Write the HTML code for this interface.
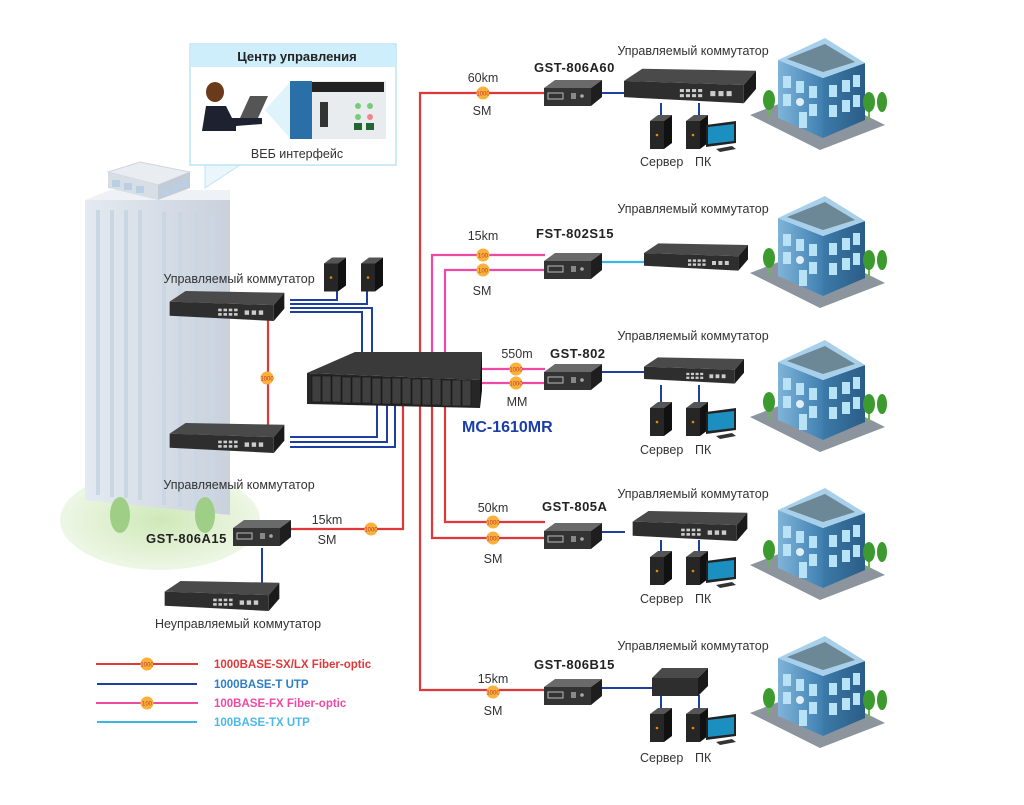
<!DOCTYPE html>
<html><head><meta charset="utf-8"><style>
html,body{margin:0;padding:0;background:#fff;}
svg{display:block;font-family:"Liberation Sans","DejaVu Sans",sans-serif;}
.t{font-size:12.5px;fill:#333;}
.b{font-size:13px;font-weight:bold;fill:#222;letter-spacing:0.5px;}
</style></head><body>
<svg width="1024" height="805" viewBox="0 0 1024 805" xmlns="http://www.w3.org/2000/svg">
<defs>
<linearGradient id="tw" x1="0" x2="1"><stop offset="0" stop-color="#e4eaf1"/><stop offset="1" stop-color="#c9d1dc"/></linearGradient>
<linearGradient id="bl" x1="0" x2="1"><stop offset="0" stop-color="#7fb4d9"/><stop offset="1" stop-color="#3f7fb0"/></linearGradient>
<linearGradient id="br" x1="0" x2="1"><stop offset="0" stop-color="#3d7aa8"/><stop offset="1" stop-color="#2a5d86"/></linearGradient>
<radialGradient id="gr"><stop offset="0" stop-color="#cfe8b8"/><stop offset="1" stop-color="#eef7e6"/></radialGradient>
<symbol id="conv" viewBox="0 0 58 28" width="58" height="28">
<polygon points="0,9 11,1 58,1 47,9" fill="#6a6a6a"/>
<polygon points="47,9 58,1 58,18 47,27" fill="#1e1e1e"/>
<rect x="0" y="9" width="47" height="18" fill="#333"/>
<rect x="4" y="14" width="15" height="6" fill="none" stroke="#bbb" stroke-width="1"/>
<rect x="27" y="14" width="5" height="6" fill="#888"/><circle cx="38" cy="17" r="1.8" fill="#aaa"/>
</symbol>
<symbol id="sw" viewBox="0 0 130 34" width="130" height="34">
<polygon points="0,12 18,0 130,2 118,16" fill="#4a4a4a"/>
<polygon points="118,16 130,2 130,20 118,34" fill="#1a1a1a"/>
<polygon points="0,12 118,16 118,34 0,28" fill="#2e2e2e"/>
<g fill="#ccc"><rect x="55" y="20" width="4" height="3"/><rect x="61" y="20" width="4" height="3"/><rect x="67" y="20" width="4" height="3"/><rect x="73" y="20" width="4" height="3"/><rect x="55" y="25" width="4" height="3"/><rect x="61" y="25" width="4" height="3"/><rect x="67" y="25" width="4" height="3"/><rect x="73" y="25" width="4" height="3"/><rect x="85" y="22" width="5" height="5"/><rect x="93" y="22" width="5" height="5"/><rect x="101" y="22" width="5" height="5"/></g>
</symbol>
<symbol id="srv" viewBox="0 0 22 34" width="22" height="34">
<polygon points="0,6 8,0 22,0 14,6" fill="#555"/><polygon points="14,6 22,0 22,28 14,34" fill="#111"/>
<rect x="0" y="6" width="14" height="28" fill="#262626"/><circle cx="7" cy="20" r="1.3" fill="#e80"/>
</symbol>
<symbol id="pc" viewBox="0 0 52 38" width="52" height="38">
<use href="#srv" x="0" y="0" width="22" height="34"/>
<polygon points="20,10 50,6 50,28 20,32" fill="#222"/><polygon points="22,12 48,9 48,26 22,29" fill="#1b8fc0"/>
<polygon points="30,34 46,31 50,34 34,37" fill="#333"/>
</symbol>
<symbol id="bldg" viewBox="0 0 145 120" width="145" height="120">
<polygon points="5,85 70,60 140,95 75,120" fill="#8c959e"/>
<polygon points="33,30 78,48 78,108 33,88" fill="url(#bl)"/>
<polygon points="78,48 120,33 120,90 78,108" fill="url(#br)"/>
<polygon points="33,30 80,8 120,33 78,48" fill="#a8d0ea"/>
<polygon points="42,29 80,14 110,32 78,42" fill="#6c8796"/>
<g fill="#b8e2f6"><rect x="38" y="46" width="8" height="12"/><rect x="51" y="51" width="8" height="12"/><rect x="64" y="56" width="8" height="12"/><rect x="38" y="64" width="8" height="12"/><rect x="64" y="74" width="8" height="12"/><rect x="54" y="82" width="8" height="16"/><rect x="84" y="55" width="8" height="12"/><rect x="97" y="50" width="8" height="12"/><rect x="108" y="45" width="7" height="12"/><rect x="84" y="75" width="8" height="12"/><rect x="97" y="70" width="8" height="12"/><rect x="108" y="65" width="7" height="12"/></g>
<circle cx="55" cy="72" r="4" fill="#dfeff8"/>
<rect x="23" y="75" width="2" height="12" fill="#6b4"/><ellipse cx="24" cy="70" rx="6" ry="10" fill="#3d9a2e"/>
<rect x="123" y="78" width="2" height="12" fill="#6b4"/><ellipse cx="124" cy="72" rx="6" ry="10" fill="#3d9a2e"/>
<ellipse cx="137" cy="72" rx="5" ry="10" fill="#3d9a2e"/>
</symbol>
<symbol id="bg1" viewBox="0 0 14 14" width="14" height="14"><circle cx="7" cy="7" r="6.5" fill="#f8b13a"/><text x="7" y="9.5" font-size="6" text-anchor="middle" fill="#c33" font-family="Liberation Sans">1000</text></symbol>
<symbol id="bg2" viewBox="0 0 14 14" width="14" height="14"><circle cx="7" cy="7" r="6.5" fill="#f8b13a"/><text x="7" y="9.5" font-size="6" text-anchor="middle" fill="#c33" font-family="Liberation Sans">100</text></symbol>
</defs>

<ellipse cx="160" cy="520" rx="100" ry="50" fill="url(#gr)"/>
<polygon points="85,200 230,200 230,515 85,500" fill="url(#tw)"/>
<polygon points="85,200 110,190 230,190 230,200" fill="#eef2f6"/>
<g stroke="#c9d6e4" stroke-width="4"><line x1="98" y1="210" x2="98" y2="495"/><line x1="112" y1="210" x2="112" y2="497"/><line x1="126" y1="210" x2="126" y2="498"/><line x1="140" y1="210" x2="140" y2="500"/><line x1="164" y1="212" x2="164" y2="505"/><line x1="180" y1="212" x2="180" y2="507"/><line x1="196" y1="212" x2="196" y2="509"/><line x1="212" y1="212" x2="212" y2="511"/></g>
<polygon points="108,172 140,162 190,172 158,185" fill="#e9edf2" stroke="#cfd6de"/>
<polygon points="108,172 158,185 158,200 108,188" fill="#d7dee6"/>
<polygon points="158,185 190,172 190,188 158,200" fill="#c3ccd6"/>
<g fill="#b9cfe6"><rect x="112" y="180" width="8" height="7"/><rect x="124" y="183" width="8" height="7"/><rect x="136" y="186" width="8" height="7"/><rect x="162" y="188" width="7" height="7"/><rect x="172" y="184" width="7" height="7"/><rect x="182" y="180" width="6" height="7"/></g>
<ellipse cx="120" cy="515" rx="10" ry="18" fill="#9fce86"/><ellipse cx="205" cy="515" rx="10" ry="18" fill="#9fce86"/>

<polygon points="205,165 240,165 205,188" fill="#eaf6fc" stroke="#bde3f4"/>
<rect x="190" y="44" width="206" height="121" fill="#fff" stroke="#bde3f4" stroke-width="1.5"/>
<rect x="191" y="45" width="204" height="22" fill="#cfeefb"/>
<text x="297" y="61" text-anchor="middle" font-size="13" font-weight="bold" fill="#222">Центр управления</text>
<polygon points="265,110 290,82 290,138" fill="#dff3fb"/>
<rect x="290" y="81" width="96" height="58" fill="#e8ecef"/>
<rect x="290" y="81" width="22" height="58" fill="#2b6fa8"/>
<rect x="312" y="82" width="72" height="10" fill="#222"/>
<rect x="320" y="102" width="8" height="25" fill="#333"/>
<g fill="#7c7"><circle cx="358" cy="106" r="3"/><circle cx="370" cy="106" r="3"/><circle cx="358" cy="117" r="3"/></g><circle cx="370" cy="117" r="3" fill="#e88"/>
<rect x="354" y="123" width="8" height="7" fill="#263"/><rect x="366" y="123" width="8" height="7" fill="#263"/>
<ellipse cx="215" cy="92" rx="9" ry="10" fill="#6b3a1a"/>
<path d="M202,131 L206,106 L226,106 L232,118 L262,118 L262,124 L236,126 L236,131 Z" fill="#1e2230"/>
<polygon points="240,118 250,96 268,96 258,118" fill="#555"/>
<text x="297" y="158" text-anchor="middle" class="t" font-size="13">ВЕБ интерфейс</text>

<g fill="none" stroke-width="2.2">
<path d="M545,93 H420 V690 H545" stroke="#e0383a"/>
<path d="M545,255 H432 V352" stroke="#ee4aa4"/>
<path d="M545,270 H445 V352" stroke="#ee4aa4"/>
<path d="M482,369 H545 M482,383 H545" stroke="#ee4aa4"/>
<path d="M445,405 V522 H545" stroke="#e0383a"/>
<path d="M432,405 V538 H545" stroke="#e0383a"/>
<path d="M290,529 H403 V405" stroke="#e0383a"/>
<path d="M268,318 V427" stroke="#e0383a"/>
<path d="M600,262 H645" stroke="#3cb4e6"/>
</g>
<g fill="none" stroke="#1d3f9f" stroke-width="2">
<path d="M600,93 H625 M600,372 H645 M600,532 H625 M600,688 H652"/>
<path d="M661,103 V118 M699,103 V118 M661,385 V403 M699,385 V403 M661,540 V553 M699,540 V553 M661,695 V708 M699,695 V708"/>
<path d="M290,300 H337 V290 M290,304 H367 V290 M290,308 H372 V352 M290,312 H362 V352"/>
<path d="M290,437 H377 V405 M290,442 H387 V405 M290,447 H395 V405"/>
<path d="M262,548 V585"/>
</g>

<use href="#bg1" x="476" y="86"/>
<use href="#bg2" x="476" y="248"/><use href="#bg2" x="476" y="263"/>
<use href="#bg1" x="509" y="362"/><use href="#bg1" x="509" y="376"/>
<use href="#bg1" x="486" y="515"/><use href="#bg1" x="486" y="531"/>
<use href="#bg1" x="486" y="685"/>
<use href="#bg1" x="260" y="371"/><use href="#bg1" x="364" y="522"/>

<polygon points="307,373 355,352 482,352 482,362 480,380" fill="#3a3a3a"/>
<polygon points="307,373 480,380 480,408 307,404" fill="#262626"/>
<polygon points="480,380 482,352 482,390 480,408" fill="#111"/>
<g fill="#3f3f3f" stroke="#151515" stroke-width="0.6">
<rect x="312" y="376" width="9" height="26"/><rect x="322" y="376" width="9" height="26"/><rect x="332" y="376" width="9" height="26"/><rect x="342" y="377" width="9" height="26"/><rect x="352" y="377" width="9" height="26"/><rect x="362" y="377" width="9" height="26"/><rect x="372" y="378" width="9" height="26"/><rect x="382" y="378" width="9" height="26"/><rect x="392" y="378" width="9" height="26"/><rect x="402" y="378" width="9" height="26"/><rect x="412" y="379" width="9" height="26"/><rect x="422" y="379" width="9" height="26"/><rect x="432" y="379" width="9" height="26"/><rect x="442" y="380" width="9" height="26"/><rect x="452" y="380" width="9" height="26"/><rect x="462" y="380" width="9" height="26"/></g>
<text x="462" y="432" font-size="16" font-weight="bold" fill="#1a3da8">MC-1610MR</text>

<use href="#sw" x="163" y="291" width="128" height="30"/>
<use href="#sw" x="163" y="423" width="128" height="30"/>
<use href="#srv" x="324" y="257" width="22" height="35"/>
<use href="#srv" x="361" y="257" width="22" height="35"/>
<text x="239" y="283" text-anchor="middle" class="t">Управляемый коммутатор</text>
<text x="239" y="489" text-anchor="middle" class="t">Управляемый коммутатор</text>
<use href="#conv" x="233" y="518" width="58" height="30"/>
<text x="146" y="543" class="b">GST-806A15</text>
<text x="327" y="524" text-anchor="middle" class="t">15km</text>
<text x="327" y="544" text-anchor="middle" class="t">SM</text>
<use href="#sw" x="146" y="581" width="152" height="30"/>
<text x="238" y="628" text-anchor="middle" class="t">Неуправляемый коммутатор</text>

<g stroke-width="2"><line x1="96" y1="664" x2="198" y2="664" stroke="#e0383a"/><line x1="97" y1="684" x2="197" y2="684" stroke="#1d3f9f"/><line x1="96" y1="703" x2="198" y2="703" stroke="#ee4aa4"/><line x1="97" y1="722" x2="197" y2="722" stroke="#3cb4e6"/></g>
<use href="#bg1" x="140" y="657"/><use href="#bg2" x="140" y="696"/>
<g font-size="11.5" font-weight="bold"><text x="214" y="668" fill="#e0383a">1000BASE-SX/LX Fiber-optic</text><text x="214" y="688" fill="#2f7ec4">1000BASE-T UTP</text><text x="214" y="707" fill="#ee4aa4">100BASE-FX Fiber-optic</text><text x="214" y="726" fill="#4bb8ea">100BASE-TX UTP</text></g>

<g class="t">
<text x="693" y="55" text-anchor="middle">Управляемый коммутатор</text>
<text x="693" y="213" text-anchor="middle">Управляемый коммутатор</text>
<text x="693" y="340" text-anchor="middle">Управляемый коммутатор</text>
<text x="693" y="498" text-anchor="middle">Управляемый коммутатор</text>
<text x="693" y="650" text-anchor="middle">Управляемый коммутатор</text>
<text x="483" y="82" text-anchor="middle">60km</text><text x="482" y="115" text-anchor="middle">SM</text>
<text x="483" y="240" text-anchor="middle">15km</text><text x="482" y="295" text-anchor="middle">SM</text>
<text x="517" y="358" text-anchor="middle">550m</text><text x="517" y="406" text-anchor="middle">MM</text>
<text x="493" y="512" text-anchor="middle">50km</text><text x="493" y="563" text-anchor="middle">SM</text>
<text x="493" y="683" text-anchor="middle">15km</text><text x="493" y="715" text-anchor="middle">SM</text>
<text x="640" y="166">Сервер</text><text x="695" y="166">ПК</text>
<text x="640" y="454">Сервер</text><text x="695" y="454">ПК</text>
<text x="640" y="603">Сервер</text><text x="695" y="603">ПК</text>
<text x="640" y="762">Сервер</text><text x="695" y="762">ПК</text>
</g>
<text x="534" y="72" class="b">GST-806A60</text>
<text x="536" y="238" class="b">FST-802S15</text>
<text x="550" y="358" class="b">GST-802</text>
<text x="542" y="511" class="b">GST-805A</text>
<text x="534" y="669" class="b">GST-806B15</text>

<use href="#conv" x="544" y="79" width="58" height="28"/>
<use href="#conv" x="544" y="252" width="58" height="28"/>
<use href="#conv" x="544" y="363" width="58" height="28"/>
<use href="#conv" x="544" y="522" width="58" height="28"/>
<use href="#conv" x="544" y="678" width="58" height="28"/>

<use href="#sw" x="624" y="68" width="132" height="36"/>
<use href="#sw" x="644" y="242" width="104" height="30"/>
<use href="#sw" x="644" y="355" width="100" height="31"/>
<use href="#sw" x="624" y="511" width="132" height="30"/>
<polygon points="652,678 662,668 708,668 698,678" fill="#4a4a4a"/><polygon points="698,678 708,668 708,686 698,696" fill="#1a1a1a"/><rect x="652" y="678" width="46" height="18" fill="#2e2e2e"/>

<use href="#srv" x="650" y="115" width="22" height="34"/><use href="#pc" x="686" y="115" width="52" height="38"/>
<use href="#srv" x="650" y="402" width="22" height="34"/><use href="#pc" x="686" y="402" width="52" height="38"/>
<use href="#srv" x="650" y="551" width="22" height="34"/><use href="#pc" x="686" y="551" width="52" height="38"/>
<use href="#srv" x="650" y="708" width="22" height="34"/><use href="#pc" x="686" y="708" width="52" height="38"/>

<use href="#bldg" x="745" y="30" width="145" height="120"/>
<use href="#bldg" x="745" y="188" width="145" height="120"/>
<use href="#bldg" x="745" y="332" width="145" height="120"/>
<use href="#bldg" x="745" y="480" width="145" height="120"/>
<use href="#bldg" x="745" y="628" width="145" height="120"/>
</svg>
</body></html>
